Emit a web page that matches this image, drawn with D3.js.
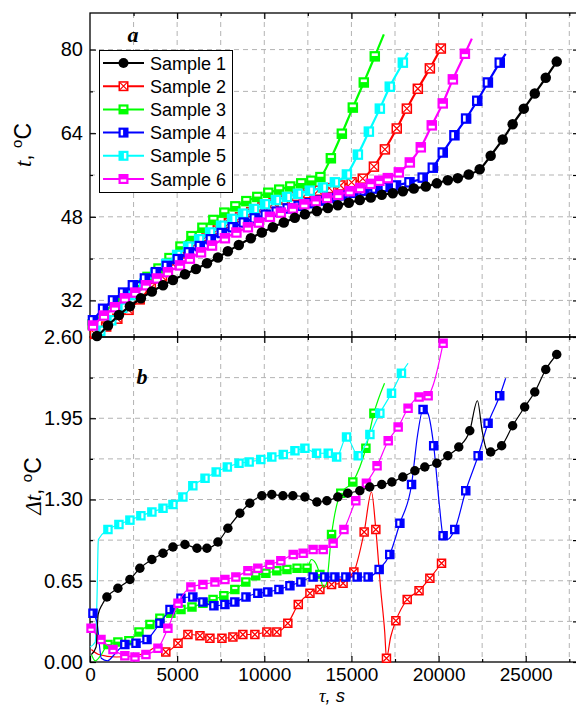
<!DOCTYPE html>
<html><head><meta charset="utf-8">
<script src="https://cdn.jsdelivr.net/npm/d3@7"></script>
<style>body{margin:0;background:#fff}svg{display:block}</style>
</head><body>
<svg id="c" width="576" height="706"></svg>
<script>
// ---------------- DATA ----------------
const names = ["Sample 1","Sample 2","Sample 3","Sample 4","Sample 5","Sample 6"];
const colors = ["#000000","#ff0000","#00ff00","#0000ff","#00ffff","#ff00ff"];
const markerTypes = ["circle","cross","hollowTop","hollowLeft","hollowRight","hollowBottom"];
const xTickLabels = [0,5000,10000,15000,20000,25000];
const xMinorTicks = [2500,7500,12500,17500,22500,27500];
const tTickLabels = [32,48,64,80];
const tMinorTicks = [40,56,72];
const dtTickLabels = [0,0.65,1.30,1.95,2.60];
const dtMinorTicks = [0.325,0.975,1.625,2.275];

// [tau (s), value] ; third element 0 = line point without marker
// Panel a: temperature t, °C
const top1 = [[100,24.9,0],[400,25.2],[1030,27.2],[1660,29.2],[2290,30.9],[2920,32.4],[3550,33.7],[4190,34.9],[4760,35.9],[5450,37.0],[6080,38.0],[6710,39.1],[7340,40.2],[7910,41.4],[8540,42.6],[9230,43.9],[9860,45.0],[10490,46.0],[11120,46.9],[11750,47.8],[12330,48.5],[13020,49.1],[13650,49.7],[14220,50.2],[14850,50.7],[15480,51.2],[16110,51.7],[16740,52.2],[17370,52.5],[17950,52.9],[18580,53.4],[19270,53.8],[19900,54.4],[20530,55.0],[21100,55.4],[21730,56.1],[22360,57.1],[22990,59.7],[23680,62.8],[24250,65.7],[24890,68.7],[25520,71.6],[26150,74.6],[26780,77.7]];
const top2 = [[290,25.6],[930,27.0],[1570,28.5],[2210,30.2],[2850,32.2],[3490,34.4],[4130,36.6],[4770,38.9],[5410,41.0],[6050,42.8],[6690,44.3],[7330,45.6],[7970,46.8],[8610,47.9],[9250,48.9],[9890,49.8],[10530,50.6],[11170,51.3],[11810,52.0],[12450,52.5],[13090,53.0],[13730,53.5],[14370,54.0],[15010,54.6],[15650,55.3],[16290,57.6],[16920,60.9],[17600,64.9],[18180,68.7],[18810,72.5],[19500,76.4],[20130,80.2]];
const top3 = [[150,27.4],[780,29.6],[1410,31.5],[2040,33.2],[2670,34.9],[3300,36.5],[3930,38.1],[4560,40.1],[5190,42.3],[5820,44.3],[6450,45.9],[7080,47.4],[7710,48.8],[8340,50.0],[8970,51.0],[9600,51.8],[10230,52.6],[10860,53.2],[11490,53.8],[12120,54.4],[12700,54.9],[13220,55.6],[13820,59.2],[14450,63.9],[15080,68.9],[15710,73.7],[16340,78.7],[16860,82.9,0]];
const top4 = [[170,28.2],[750,30.4],[1320,32.0],[1900,33.5],[2460,34.9],[3150,36.2],[3780,37.4],[4410,38.6],[5040,39.9],[5670,41.2],[6300,42.4],[6930,43.7],[7560,44.9],[8190,46.0],[8820,46.9],[9450,47.7],[10080,48.4],[10710,49.0],[11340,49.6],[11970,50.1],[12600,50.6],[13230,51.1],[13860,51.6],[14490,52.1],[15120,52.6],[15750,53.0],[16380,53.4],[16970,53.7],[17560,54.0],[18330,54.6],[19090,55.5],[19670,57.4],[20240,60.3],[20910,63.6],[21580,66.8],[22220,70.2],[22830,73.7],[23510,77.5],[23850,79.2,0]];
const top5 = [[100,25.4,0],[590,26.2],[1220,28.2],[1850,30.6],[2480,33.0],[3110,35.2],[3740,37.2],[4370,39.0],[5000,40.7],[5630,42.3],[6260,43.7],[6890,45.0],[7520,46.3],[8150,47.6],[8780,48.6],[9410,49.5],[10040,50.4],[10670,51.2],[11300,51.8],[11930,52.4],[12610,53.0],[13360,53.6],[14050,54.6],[14740,56.1],[15370,59.9],[16000,64.3],[16630,68.7],[17200,72.9],[17950,77.5],[18240,79.4,0]];
const top6 = [[170,27.2],[800,29.1],[1430,30.7],[2000,32.4],[2600,33.5],[3210,34.9],[3840,36.2],[4470,37.4],[5160,38.7],[5730,40.0],[6370,41.2],[7000,42.5],[7740,43.9],[8400,45.0],[9060,46.0],[9690,46.9],[10320,48.0],[10950,48.8],[11640,49.6],[12300,50.4],[12950,51.0],[13600,51.6],[14250,52.2],[14900,52.9],[15500,53.5],[16100,54.3],[16600,54.9],[17090,55.4],[17720,56.5],[18350,58.4],[18980,61.3],[19610,65.5],[20240,69.7],[20820,74.3],[21510,79.2],[21910,82.1,0]];

// Panel b: temperature difference Δt, °C
const bot1 = [[80,0.06,0],[350,0.12,0],[470,0.38,0],[700,0.46,0],[970,0.52],[1600,0.59],[2290,0.66],[2860,0.75],[3550,0.82],[4190,0.87],[4760,0.92],[5450,0.94],[6140,0.91],[6710,0.91],[7340,0.96],[7910,1.07],[8600,1.19],[9170,1.27],[9860,1.33],[10430,1.34],[11070,1.33],[11640,1.33],[12330,1.32],[13020,1.28],[13590,1.29],[14220,1.32],[14790,1.35],[15480,1.37],[16050,1.40],[16740,1.42],[17320,1.44],[17950,1.48],[18640,1.53],[19210,1.56],[19900,1.59],[20530,1.65],[21160,1.72],[21790,1.85],[22230,2.09,0],[22500,1.85,0],[22750,1.70,0],[22990,1.68],[23620,1.73],[24250,1.89],[24940,2.04],[25520,2.16],[26150,2.34],[26780,2.46]];
const bot2 = [[80,0.10,0],[500,0.06,0],[1500,0.04,0],[2500,0.05,0],[3300,0.08,0],[3800,0.12,0],[4350,0.08],[5050,0.15],[5620,0.22],[6310,0.21],[6880,0.19],[7570,0.19],[8200,0.20],[8770,0.22],[9460,0.22],[10150,0.24],[10720,0.24],[11350,0.31],[11950,0.46],[12620,0.55],[13190,0.58],[13860,0.62],[14520,0.63],[15140,0.72],[15730,1.04],[16150,1.36,0],[16400,1.06],[16680,0.58,0],[16910,0.24,0],[17010,0.03],[17250,0.20,0],[17550,0.33],[18200,0.50],[18880,0.57],[19500,0.67],[20170,0.79]];
const bot3 = [[80,0.06,0],[300,0.01,0],[600,0.05,0],[1030,0.14],[1600,0.16],[2230,0.17],[2810,0.24],[3440,0.30],[4010,0.35],[4640,0.39],[5220,0.42],[5850,0.44],[6480,0.47],[7060,0.50],[7680,0.53],[8310,0.58],[8940,0.64],[9510,0.69],[10090,0.71],[10720,0.73],[11300,0.74],[11880,0.75],[12450,0.75],[12700,0.82,0],[12950,0.79,0],[13190,0.70],[13380,0.60,0],[13550,0.62,0],[13860,1.02],[14390,1.35],[15080,1.44],[15830,1.71],[16290,1.99],[16900,2.23,0]];
const bot4 = [[170,0.39],[400,0.32,0],[650,0.03,0],[1000,0.01,0],[1400,0.06,0],[2000,0.14],[2640,0.15],[3270,0.18],[4010,0.31],[4590,0.42],[5220,0.51],[5900,0.52],[6480,0.48],[7110,0.45],[7740,0.46],[8310,0.48],[8950,0.52],[9630,0.55],[10200,0.56],[10840,0.58],[11470,0.61],[12100,0.64],[12800,0.68],[13470,0.68],[14050,0.68],[14680,0.68],[15330,0.68],[15960,0.68],[16590,0.74],[17200,0.86],[17780,1.11],[18450,1.42],[18800,1.82,0],[19110,2.02],[19350,2.00,0],[19720,1.73],[20050,1.25,0],[20260,1.01],[20500,0.98,0],[20930,1.06],[21560,1.37],[22270,1.65],[22840,1.91],[23510,2.13],[23850,2.27,0]];
const bot5 = [[0,0.12,0],[300,0.16,0],[400,0.50,0],[480,0.98,0],[1030,1.06],[1660,1.10],[2290,1.135],[2920,1.17],[3550,1.20],[4190,1.23],[4760,1.26],[5330,1.32],[5900,1.41],[6600,1.47],[7240,1.52],[7880,1.56],[8550,1.59],[9130,1.60],[9800,1.62],[10430,1.64],[11090,1.66],[11760,1.69],[12330,1.71],[13000,1.67],[13670,1.67],[14150,1.64],[14720,1.80],[15390,1.65],[16060,1.82],[16630,1.99],[17300,2.15],[17870,2.31],[18250,2.39,0]];
const bot6 = [[60,0.27],[630,0.18],[1320,0.10],[2000,0.05],[2580,0.04],[3210,0.06],[3900,0.11],[4470,0.27],[5050,0.47],[5790,0.60],[6480,0.62],[7170,0.64],[7740,0.66],[8370,0.68],[9060,0.73],[9630,0.75],[10320,0.78],[10950,0.81],[11660,0.86],[12230,0.87],[12800,0.90],[13380,0.90],[13950,0.95],[14570,1.06],[15250,1.29],[15860,1.43],[16470,1.57],[17110,1.77],[17680,1.88],[18250,2.03],[18880,2.12],[19400,2.13],[19650,2.20,0],[20260,2.55]];

const topSeries = [top1,top2,top3,top4,top5,top6];
const botSeries = [bot1,bot2,bot3,bot4,bot5,bot6];
const drawOrder = [1,2,4,3,5,0];

// ---------------- LAYOUT ----------------
const svg = d3.select("#c");
const L = 90, R = 578, T = 13, M = 337, B = 662;
const x = d3.scaleLinear([0,28000],[L,R]);
const yT = d3.scaleLinear([25,87],[M,T]);
const yB = d3.scaleLinear([0,2.6],[B,M]);
const SANS = "'Liberation Sans', Arial, sans-serif";
const SERIF = "'Liberation Serif', 'Times New Roman', serif";

// grid
const grid = svg.append("g").attr("stroke","#b3b3b3").attr("stroke-width",1).attr("stroke-dasharray","5,4").attr("fill","none");
const xGrid = d3.range(2500, 28000, 2500);
xGrid.forEach(v => {
  grid.append("line").attr("x1",x(v)).attr("x2",x(v)).attr("y1",T).attr("y2",M);
  grid.append("line").attr("x1",x(v)).attr("x2",x(v)).attr("y1",M).attr("y2",B);
});
tTickLabels.concat(tMinorTicks).forEach(v => grid.append("line").attr("x1",L).attr("x2",R).attr("y1",yT(v)).attr("y2",yT(v)));
dtTickLabels.slice(1,4).concat(dtMinorTicks).forEach(v => grid.append("line").attr("x1",L).attr("x2",R).attr("y1",yB(v)).attr("y2",yB(v)));

// axes (inward ticks)
function styleAxis(g, fs){ g.select(".domain").remove(); g.selectAll("line").attr("stroke","#000").attr("stroke-width",1.2);
  g.selectAll("text").attr("font-family",SANS).attr("font-size",fs||20).attr("fill","#000"); }
svg.append("g").attr("transform",`translate(0,${B})`).call(d3.axisBottom(x).tickValues(xTickLabels).tickSize(-6).tickPadding(5.5).tickFormat(d3.format("d"))).call(styleAxis, 19);
svg.append("g").attr("transform",`translate(0,${B})`).call(d3.axisBottom(x).tickValues(xMinorTicks).tickSize(-3).tickFormat("")).call(styleAxis);
[[M,-6],[M,6],[T,6]].forEach(([yy,s]) => {
  svg.append("g").attr("transform",`translate(0,${yy})`).call(d3.axisBottom(x).tickValues(xTickLabels.slice(1)).tickSize(s).tickFormat("")).call(styleAxis);
  svg.append("g").attr("transform",`translate(0,${yy})`).call(d3.axisBottom(x).tickValues(xMinorTicks).tickSize(s/2).tickFormat("")).call(styleAxis);
});
svg.append("g").attr("transform",`translate(${L},0)`).call(d3.axisLeft(yT).tickValues(tTickLabels).tickSize(-6).tickPadding(7)).call(styleAxis);
svg.append("g").attr("transform",`translate(${L},0)`).call(d3.axisLeft(yT).tickValues(tMinorTicks).tickSize(-3).tickFormat("")).call(styleAxis);
svg.append("g").attr("transform",`translate(${L},0)`).call(d3.axisLeft(yB).tickValues(dtTickLabels).tickSize(-6).tickPadding(7).tickFormat(d3.format(".2f"))).call(styleAxis);
svg.append("g").attr("transform",`translate(${L},0)`).call(d3.axisLeft(yB).tickValues(dtMinorTicks).tickSize(-3).tickFormat("")).call(styleAxis);
svg.append("g").attr("transform",`translate(${R},0)`).call(d3.axisRight(yT).tickValues(tTickLabels.concat(tMinorTicks)).tickSize(-5).tickFormat("")).call(styleAxis);
svg.append("g").attr("transform",`translate(${R},0)`).call(d3.axisRight(yB).tickValues(dtTickLabels.concat(dtMinorTicks)).tickSize(-5).tickFormat("")).call(styleAxis);

// frames
svg.append("rect").attr("x",L).attr("y",T).attr("width",R-L).attr("height",M-T).attr("fill","none").attr("stroke","#000").attr("stroke-width",1.3);
svg.append("rect").attr("x",L).attr("y",M).attr("width",R-L).attr("height",B-M).attr("fill","none").attr("stroke","#000").attr("stroke-width",1.3);

// markers
function drawMarker(g, type, color, s){
  const h = s/2;
  if(type === "circle"){ g.append("circle").attr("r",h).attr("fill",color); return; }
  g.append("rect").attr("x",-h+0.75).attr("y",-h+0.75).attr("width",s-1.5).attr("height",s-1.5)
    .attr("fill", type==="cross" ? "#fff" : color).attr("stroke",color).attr("stroke-width",1.5);
  if(type === "cross"){
    const k = h-1.5;
    g.append("path").attr("d",`M${-k},${-k}L${k},${k}M${k},${-k}L${-k},${k}`).attr("stroke",color).attr("stroke-width",1.2);
    return;
  }
  const i = 2.2, w = s-2*i, hh = h-i-0.4;
  let r;
  if(type==="hollowTop") r = [-h+i, -h+i, w, hh];
  if(type==="hollowBottom") r = [-h+i, 0.4, w, hh];
  if(type==="hollowLeft") r = [-h+i, -h+i, hh, w];
  if(type==="hollowRight") r = [0.4, -h+i, hh, w];
  g.append("rect").attr("x",r[0]).attr("y",r[1]).attr("width",r[2]).attr("height",r[3]).attr("fill","#fff");
}

function drawPanel(series, y, lw, ms){
  const line = d3.line().x(d=>x(d[0])).y(d=>y(d[1])).curve(d3.curveMonotoneX);
  const g = svg.append("g");
  drawOrder.forEach(k => {
    const data = series[k];
    g.append("path").datum(data).attr("d",line).attr("fill","none").attr("stroke",colors[k]).attr("stroke-width",lw).attr("stroke-linejoin","round");
    g.selectAll(null).data(data.filter(d => d.length < 3)).enter().append("g")
      .attr("transform", d => `translate(${x(d[0])},${y(d[1])})`)
      .each(function(){ drawMarker(d3.select(this), markerTypes[k], colors[k], ms); });
  });
}
drawPanel(topSeries, yT, 2.2, 10.5);
drawPanel(botSeries, yB, 1.2, 9.5);

// legend
const lg = svg.append("g");
lg.append("rect").attr("x",99.5).attr("y",50.5).attr("width",133).attr("height",142).attr("fill","#fff").attr("stroke","#000").attr("stroke-width",1);
names.forEach((n,k) => {
  const yy = 63 + k*23.2;
  lg.append("line").attr("x1",103).attr("x2",144).attr("y1",yy).attr("y2",yy).attr("stroke",colors[k]).attr("stroke-width",2);
  drawMarker(lg.append("g").attr("transform",`translate(123.5,${yy})`), markerTypes[k], colors[k], 10);
  lg.append("text").attr("x",150).attr("y",yy+6.5).attr("font-family",SANS).attr("font-size",18).text(n);
});

// panel letters
svg.append("text").attr("x",133).attr("y",42).attr("text-anchor","middle").attr("font-family",SERIF).attr("font-style","italic").attr("font-weight","bold").attr("font-size",22).text("a");
svg.append("text").attr("x",142).attr("y",384).attr("text-anchor","middle").attr("font-family",SERIF).attr("font-style","italic").attr("font-weight","bold").attr("font-size",22).text("b");

// axis titles
function yTitle(cx, cy, parts){
  const t = svg.append("text").attr("transform",`translate(${cx},${cy}) rotate(-90)`).attr("text-anchor","middle").attr("font-size",23).attr("font-family",SANS);
  parts.forEach(p => { const s = t.append("tspan").text(p.t); Object.entries(p.a||{}).forEach(([k,v]) => s.attr(k,v)); });
}
yTitle(31,145,[{t:"t",a:{"font-family":SERIF,"font-style":"italic"}},{t:", "},{t:"o",a:{"font-size":15,dy:-9}},{t:"C",a:{dy:9}}]);
yTitle(41,486,[{t:"Δt",a:{"font-family":SERIF,"font-style":"italic"}},{t:", "},{t:"o",a:{"font-size":15,dy:-9}},{t:"C",a:{dy:9}}]);
const xt = svg.append("text").attr("x",332).attr("y",701.8).attr("text-anchor","middle").attr("font-size",18.5);
xt.append("tspan").attr("font-family",SERIF).attr("font-style","italic").text("τ");
xt.append("tspan").attr("font-family",SANS).attr("font-style","italic").text(", s");
</script>
</body></html>
